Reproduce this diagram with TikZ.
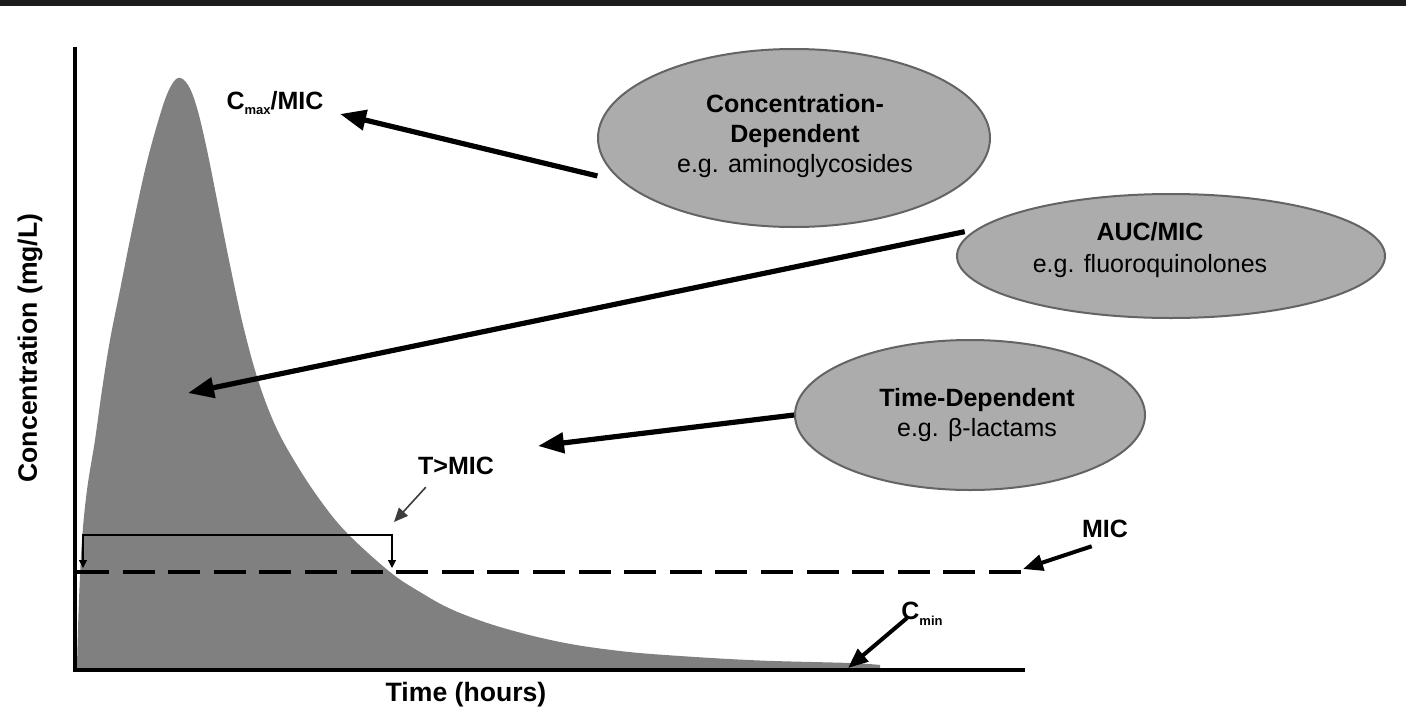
\documentclass[tikz,border=0pt]{standalone}
\usepackage{fontspec}
\setmainfont{Liberation Sans}
\usetikzlibrary{arrows.meta,shapes.geometric}
\definecolor{curvegray}{RGB}{128,128,128}
\definecolor{ellfill}{RGB}{172,172,172}
\definecolor{ellline}{RGB}{100,100,100}
\definecolor{topband}{RGB}{28,28,28}
\definecolor{thinarrow}{RGB}{60,60,60}
\begin{document}
\begin{tikzpicture}[x=0.5pt,y=-0.5pt,
  ell/.style={ellipse, draw=ellline, line width=1pt, fill=ellfill, inner sep=0pt},
  elltext/.style={align=center, inner sep=0pt, font=\fontsize{12.5}{15}\selectfont},
  bigarrow/.style={line width=2.6pt, -{Triangle[length=13pt,width=10pt]}},
  midarrow/.style={line width=2pt, -{Triangle[length=10pt,width=8pt]}},
  smallarrow/.style={line width=0.8pt, draw=thinarrow, -{Triangle[length=7pt,width=6pt]}},
  lbl/.style={font=\bfseries\fontsize{12.5}{15}\selectfont, inner sep=0pt},
  axislbl/.style={font=\bfseries\fontsize{13.3}{15}\selectfont, inner sep=0pt},
  axisline/.style={line width=2pt},
  bracketline/.style={line width=0.6pt, {Triangle[length=4pt,width=4pt]}-{Triangle[length=4pt,width=4pt]}},
  micline/.style={line width=2pt, dash pattern=on 16pt off 6.8pt}
]
\useasboundingbox (0,0) rectangle (1406,712);
\fill[white] (0,0) rectangle (1406,712);
\fill[topband] (0,0) rectangle (1406,6);

% concentration curve
\fill[curvegray] (75,669) -- (77,665) -- plot[smooth,tension=0.6] coordinates {
 (77,665) (79,600) (82,540) (87,490) (95,440) (102,390) (110,340) (120,290)
 (132,230) (145,170) (157,125) (168,92) (178,78) (188,85) (197,108) (207,150)
 (218,205) (230,265) (243,325) (258,380) (275,425) (295,462) (320,500)
 (347,533) (390,572) (420,592) (453,610) (500,627) (560,642) (620,651)
 (680,656) (760,660.5) (850,663) (880,665)} -- (880,669) -- cycle;

% T>MIC bracket
\coordinate (bracketL) at (83,568);
\coordinate (bracketR) at (392,568);
\draw[bracketline] (bracketL) -- (83,535) -- (392,535) -- (bracketR);

% MIC line
\coordinate (micstart) at (77,572);
\coordinate (micend) at (1022,572);
\draw[micline] (micstart) -- (micend);

% axes
\coordinate (origin) at (75,670);
\coordinate (ytop) at (75,47);
\coordinate (xend) at (1025,670);
\draw[axisline] (ytop) -- ([yshift=-1pt]origin);
\draw[axisline] ([xshift=-1pt]origin) -- (xend);

% ellipses
\node[ell, minimum width=196pt, minimum height=89pt] (e1) at (794,138) {};
\node[elltext] (e1t) at (795,136) {\textbf{Concentration-}\\\textbf{Dependent}\\e.g. aminoglycosides};
\node[ell, minimum width=214pt, minimum height=62pt] (e2) at (1171,256) {};
\node[elltext] (e2t) at (1150,250) {\textbf{AUC/MIC}\\[1pt]e.g. fluoroquinolones};
\node[ell, minimum width=175pt, minimum height=75pt] (e3) at (970,415) {};
\node[elltext] (e3t) at (977,415) {\textbf{Time-Dependent}\\e.g. β-lactams};

% labels
\node[lbl] (cmax) at (275,103) {C\raisebox{-0.45ex}{\fontsize{6.5}{7}\selectfont max}/MIC};
\node[lbl] (tmic) at (456,466) {T>MIC};
\node[lbl] (mic) at (1105,529) {MIC};
\node[lbl] (cmin) at (922,614) {C\raisebox{-0.45ex}{\fontsize{6.5}{7}\selectfont min}};
\node[axislbl, rotate=90] (ylab) at (30,348) {Concentration (mg/L)};
\node[axislbl] (xlab) at (466,695) {Time (hours)};

% arrow targets
\coordinate (tcmax) at (340,114);
\coordinate (tauc) at (188,393);
\coordinate (ttime) at (538,446);
\coordinate (tmictip) at (1023,569);
\coordinate (tcmin) at (848,668);
\coordinate (ttmic) at (394,522);

% arrows
\draw[bigarrow] ([xshift=-9pt]e1.192) -- (tcmax);
\draw[bigarrow] ([xshift=-4pt]e2.173) -- (tauc);
\draw[bigarrow] (e3.west) -- (ttime);
\draw[midarrow] ([shift={(5pt,-4pt)}]mic.south west) -- (tmictip);
\draw[midarrow] ([shift={(3pt,-2pt)}]cmin.west) -- (tcmin);
\draw[smallarrow] ([shift={(4pt,-6pt)}]tmic.south west) -- (ttmic);
\end{tikzpicture}
\end{document}
